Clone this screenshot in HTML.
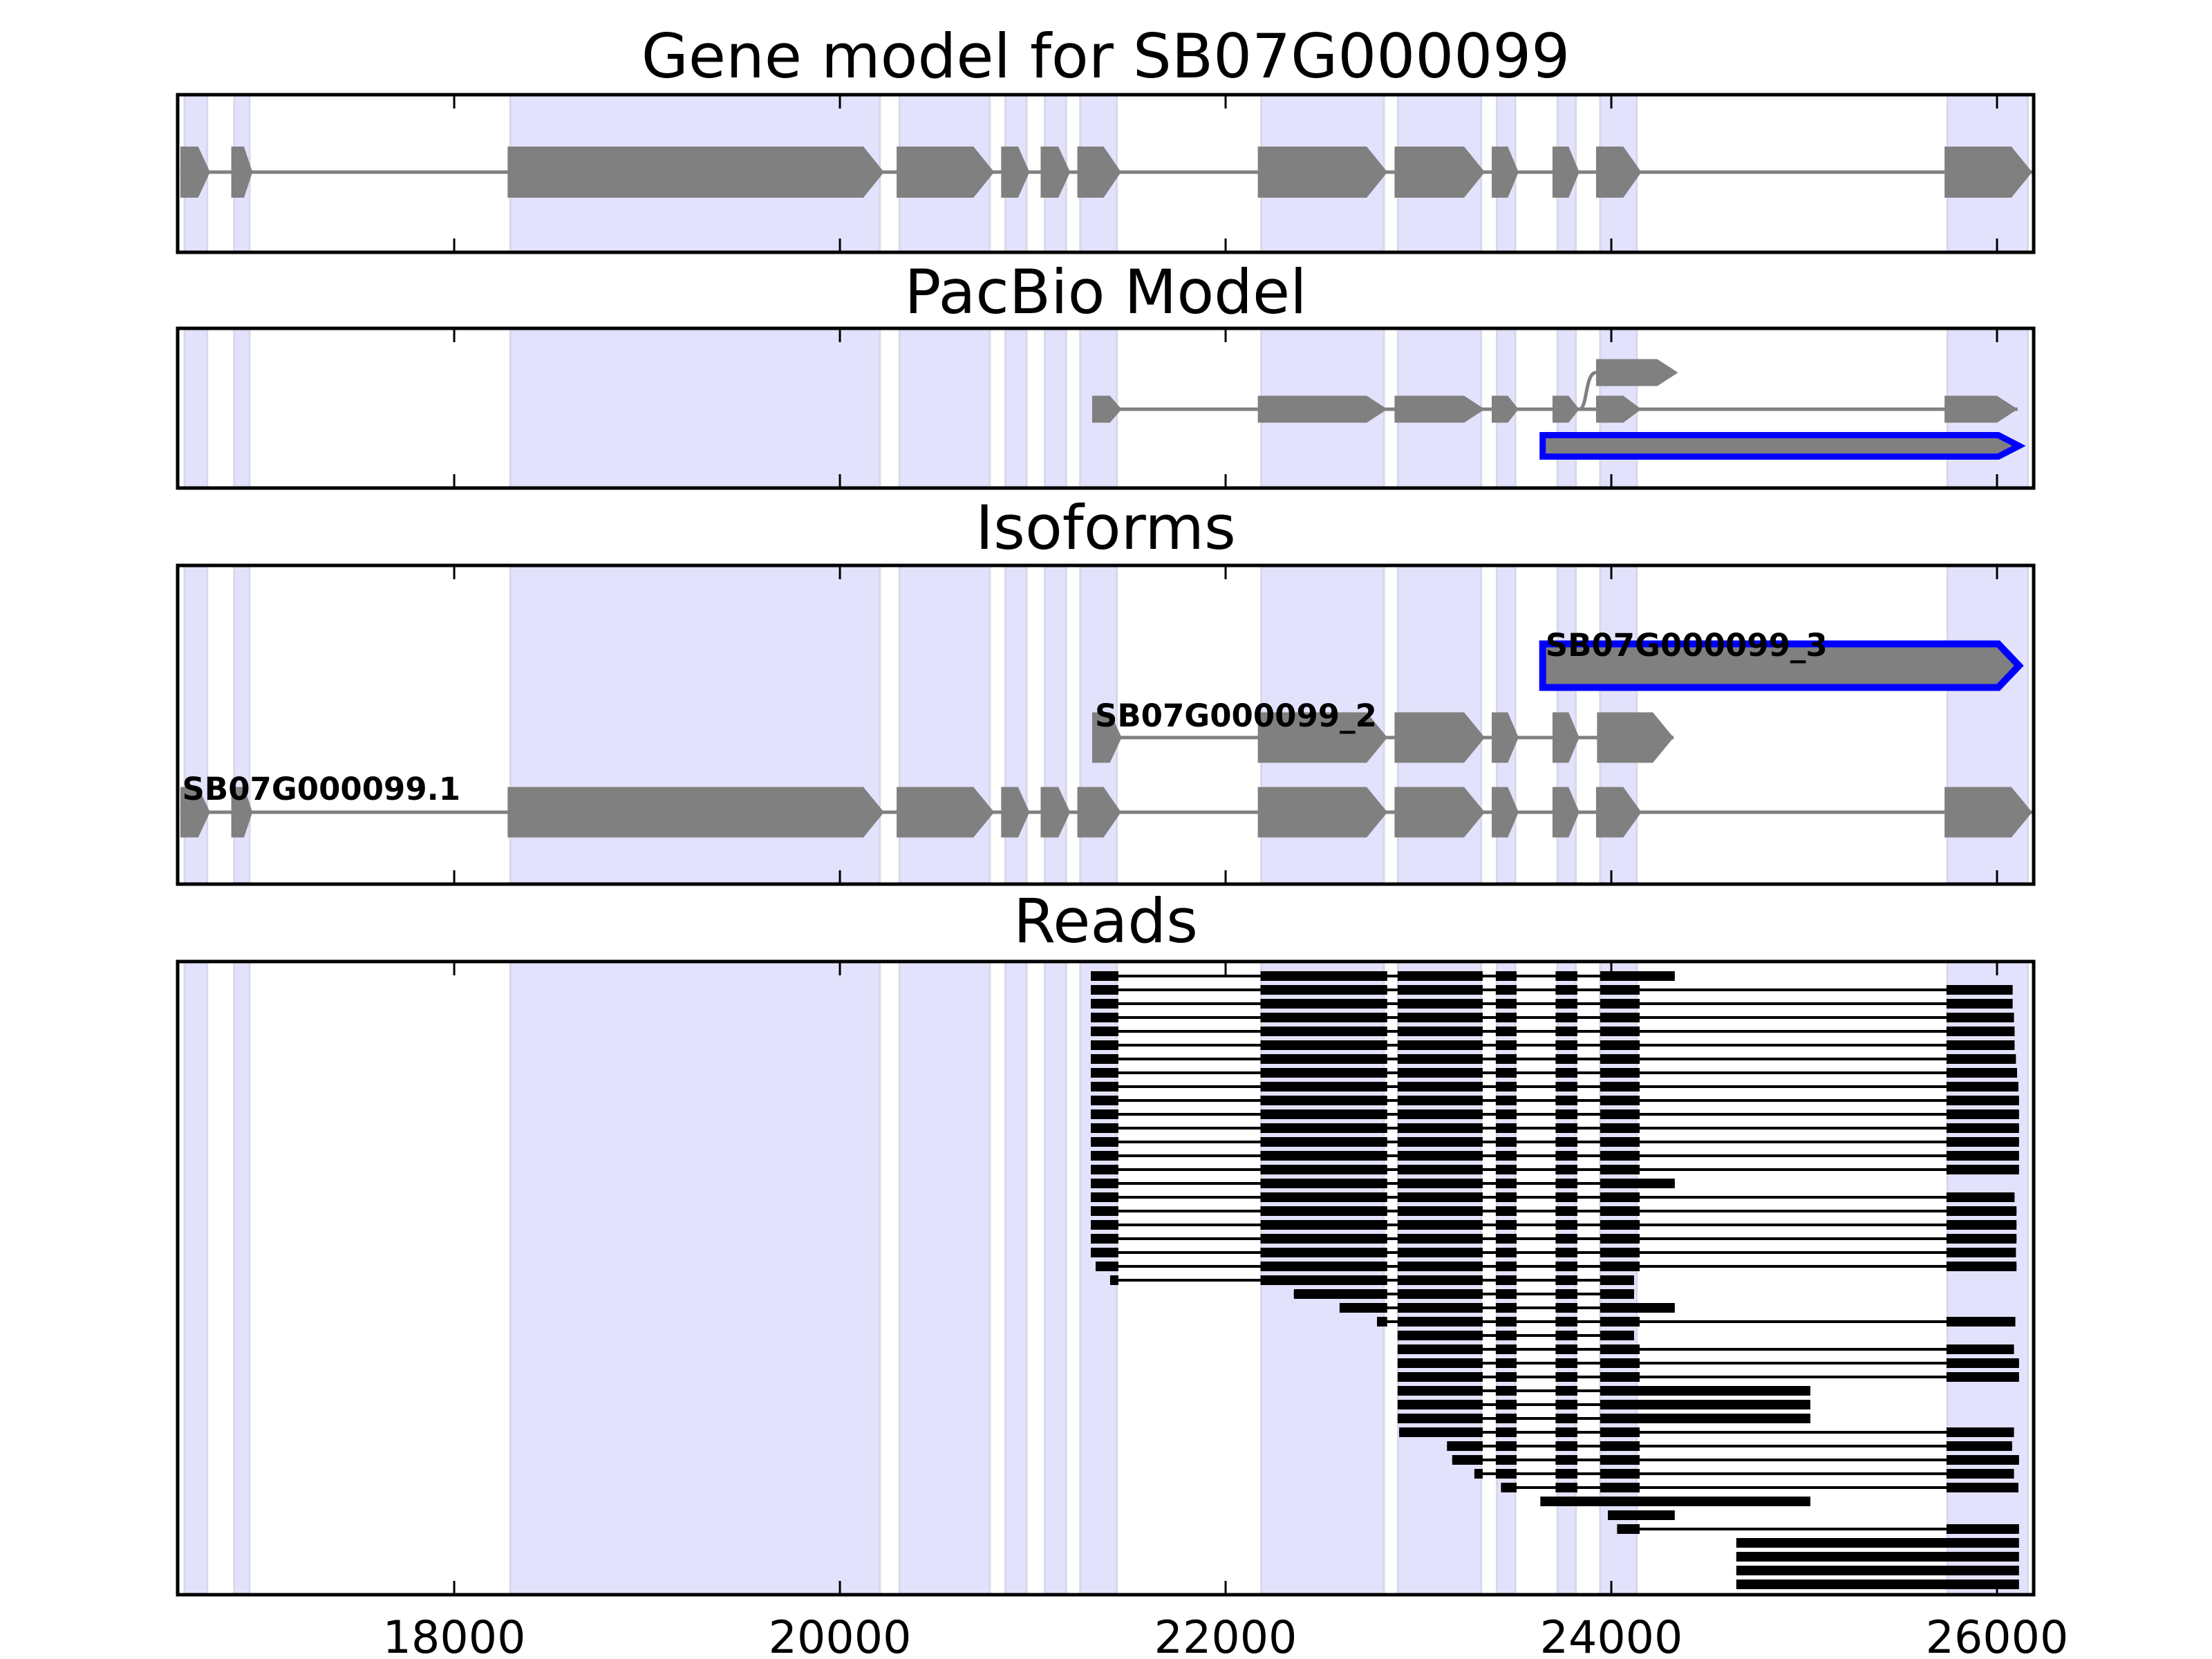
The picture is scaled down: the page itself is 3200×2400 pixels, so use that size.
<!DOCTYPE html>
<html><head><meta charset="utf-8"><style>
html,body{margin:0;padding:0;background:#fff;}
svg{display:block;}
text{font-family:"DejaVu Sans","Liberation Sans",sans-serif;}
</style></head><body>
<svg id="fig" width="3200" height="2400" viewBox="0 0 3200 2400" xmlns="http://www.w3.org/2000/svg"></svg>
<script>
// ---- data ----
const xTicks = [18000, 20000, 22000, 24000, 26000];
const xTickLabels = ["18000", "20000", "22000", "24000", "26000"];
const shadeStarts = [16602, 16859, 18291, 20309, 20858, 21063, 21246, 22185, 22894, 23407, 23721, 23942, 25743];
const shadeEnds   = [16719, 16939, 20207, 20777, 20968, 21173, 21436, 22821, 23325, 23502, 23816, 24132, 26160];
const geneStarts = [16580, 16844, 18277, 20294, 20836, 21041, 21231, 22167, 22876, 23380, 23695, 23921, 25728];
const geneEnds   = [16734, 16954, 20229, 20800, 20983, 21194, 21458, 22839, 23344, 23519, 23834, 24156, 26182];
const pacMainStarts = [21308, 22167, 22876, 23380, 23695, 23921, 25728];
const pacMainEnds   = [21461, 22839, 23344, 23519, 23834, 24156, 26107];
const pacBranchExon = [23921, 24346];
const pacBox = [23644, 26114];
const iso2Starts = [21308, 22167, 22876, 23380, 23695, 23926];
const iso2Ends   = [21461, 22839, 23344, 23519, 23834, 24323];
const isoLabels = ["SB07G000099.1", "SB07G000099_2", "SB07G000099_3"];
const isoLabelStarts = [16575, 21308, 23644];
const A=[21301,21444],B=[22181,22838],C=[22892,23333],D=[23401,23509],E=[23711,23824],F=[23942,24147],FL=[23942,24329],FS=[23942,24118];
function G(e){return [25738,e];}
const reads = [
 [A,B,C,D,E,FL],
 [A,B,C,D,E,F,G(26081)],
 [A,B,C,D,E,F,G(26081)],
 [A,B,C,D,E,F,G(26088)],
 [A,B,C,D,E,F,G(26091)],
 [A,B,C,D,E,F,G(26091)],
 [A,B,C,D,E,F,G(26098)],
 [A,B,C,D,E,F,G(26104)],
 [A,B,C,D,E,F,G(26111)],
 [A,B,C,D,E,F,G(26114)],
 [A,B,C,D,E,F,G(26114)],
 [A,B,C,D,E,F,G(26114)],
 [A,B,C,D,E,F,G(26114)],
 [A,B,C,D,E,F,G(26114)],
 [A,B,C,D,E,F,G(26114)],
 [A,B,C,D,E,FL],
 [A,B,C,D,E,F,G(26091)],
 [A,B,C,D,E,F,G(26101)],
 [A,B,C,D,E,F,G(26101)],
 [A,B,C,D,E,F,G(26101)],
 [A,B,C,D,E,F,G(26098)],
 [[21326,21444],B,C,D,E,F,G(26101)],
 [[21401,21444],B,C,D,E,FS],
 [[22354,22838],C,D,E,FS],
 [[22591,22838],C,D,E,FL],
 [[22785,22838],C,D,E,F,G(26095)],
 [C,D,E,FS],
 [C,D,E,F,G(26088)],
 [C,D,E,F,G(26114)],
 [C,D,E,F,G(26114)],
 [C,D,E,[23942,25032]],
 [C,D,E,[23942,25032]],
 [C,D,E,[23942,25032]],
 [[22900,23333],D,E,F,G(26088)],
 [[23148,23333],D,E,F,G(26078)],
 [[23175,23333],D,E,F,G(26114)],
 [[23290,23333],D,E,F,G(26088)],
 [[23428,23509],E,F,G(26111)],
 [[23632,25032]],
 [[23982,24329]],
 [[24030,24147],G(26114)],
 [[24648,26114]],
 [[24648,26114]],
 [[24648,26114]],
 [[24648,26114]]
];
// ---- layout ----
const XMIN=16566, XMAX=26190, L=257, R=2942;
function X(v){return L+(v-XMIN)/(XMAX-XMIN)*(R-L);}
const panels=[
 {name:"gene-model-panel",title:"Gene model for SB07G000099",top:137,bot:365,tb:112},
 {name:"pacbio-model-panel",title:"PacBio Model",top:475,bot:706,tb:453},
 {name:"isoforms-panel",title:"Isoforms",top:818,bot:1279,tb:794},
 {name:"reads-panel",title:"Reads",top:1391,bot:2307,tb:1363}
];
const NS="http://www.w3.org/2000/svg";
const svg=document.getElementById('fig');
function el(tag,attrs,parent){const e=document.createElementNS(NS,tag);for(const k in attrs)e.setAttribute(k,attrs[k]);(parent||svg).appendChild(e);return e;}
function arrowPts(s,e,cy,h){const x1=X(s),x2=X(e);const t=Math.min(30,0.4*(x2-x1));
 return `${x1},${cy-h/2} ${x2-t},${cy-h/2} ${x2},${cy} ${x2-t},${cy+h/2} ${x1},${cy+h/2}`;}
const groups=[];
panels.forEach((p,pi)=>{
 const g=el('g',{});
 
 
 groups.push(g);
 const cp=el('clipPath',{id:'cp'+pi},g);
 el('rect',{x:L,y:p.top,width:R-L,height:p.bot-p.top},cp);
 const sg=el('g',{'clip-path':`url(#cp${pi})`},g);
 p.sg=sg;
 for(let i=0;i<shadeStarts.length;i++){
  const r=el('rect',{x:X(shadeStarts[i]),y:p.top,width:X(shadeEnds[i])-X(shadeStarts[i]),height:p.bot-p.top,fill:'#e2e2fc',stroke:'#d8d8ea','stroke-width':3},sg);
  
  
 }
 const t=el('text',{x:(L+R)/2,y:p.tb,'text-anchor':'middle','font-size':88,fill:'#000'},svg);
 t.textContent=p.title;
 
 
});
function drawModel(sg,starts,ends,cy,h,name){
 const ln=el('line',{x1:X(starts[0]),x2:X(ends[ends.length-1]),y1:cy,y2:cy,stroke:'#808080','stroke-width':5},sg);
 
 
 for(let i=0;i<starts.length;i++){
  const pg=el('polygon',{points:arrowPts(starts[i],ends[i],cy,h),fill:'#808080'},sg);
  
  
 }
}
// panel 1
drawModel(panels[0].sg,geneStarts,geneEnds,249,74,'gene');
// panel 2
drawModel(panels[1].sg,pacMainStarts,pacMainEnds,592,39,'pacbio');
{const sg=panels[1].sg;const x1=X(23834),x2=X(pacBranchExon[0]);
 const c=el('path',{d:`M${x1},592 C${x1+12},592 ${x1+8},539 ${x2},539`,fill:'none',stroke:'#808080','stroke-width':5},sg);
 
 
 const b=el('polygon',{points:arrowPts(pacBranchExon[0],pacBranchExon[1],539,39),fill:'#808080'},sg);
 
 
 const bx=el('polygon',{points:arrowPts(pacBox[0],pacBox[1],645,31),fill:'#808080',stroke:'#0000ff','stroke-width':9},sg);
 
 
}
// panel 3
drawModel(panels[2].sg,geneStarts,geneEnds,1175,73,'isoform-1');
drawModel(panels[2].sg,iso2Starts,iso2Ends,1067,73,'isoform-2');
{const bx=el('polygon',{points:arrowPts(pacBox[0],pacBox[1],963,63),fill:'#808080',stroke:'#0000ff','stroke-width':10},panels[2].sg);
 
 
 const ly=[1157,1051,949];
 isoLabels.forEach((s,i)=>{const t=el('text',{x:X(isoLabelStarts[i])+4,y:ly[i],'font-size':45,'font-weight':'bold',fill:'#000'},svg);
  t.textContent=s;
  
  });
}
// panel 4 reads
reads.forEach((r,i)=>{
 const cy=1412+i*20;const sg=panels[3].sg;
 const g=el('g',{},sg);
 
 
 if(r.length>1){const ln=el('line',{x1:X(r[0][0]),x2:X(r[r.length-1][1]),y1:cy,y2:cy,stroke:'#000','stroke-width':4},g);
  
  }
 r.forEach(b=>{const rc=el('rect',{x:X(b[0]),y:cy-7,width:X(b[1])-X(b[0]),height:14,fill:'#000'},g);
  
  });
});
// frames and ticks
panels.forEach((p,pi)=>{
 xTicks.forEach((v,i)=>{
  const a=el('line',{x1:X(v),x2:X(v),y1:p.top,y2:p.top+20,stroke:'#000','stroke-width':3},svg);
  
  
  const b=el('line',{x1:X(v),x2:X(v),y1:p.bot,y2:p.bot-20,stroke:'#000','stroke-width':3},svg);
  
  
  if(pi===3){const t=el('text',{x:X(v),y:2391,'text-anchor':'middle','font-size':65,fill:'#000'},svg);
   t.textContent=xTickLabels[i];
   
   }
 });
 const f=el('rect',{x:L,y:p.top,width:R-L,height:p.bot-p.top,fill:'none',stroke:'#000','stroke-width':5},svg);
 
 
});
</script>
</body></html>
